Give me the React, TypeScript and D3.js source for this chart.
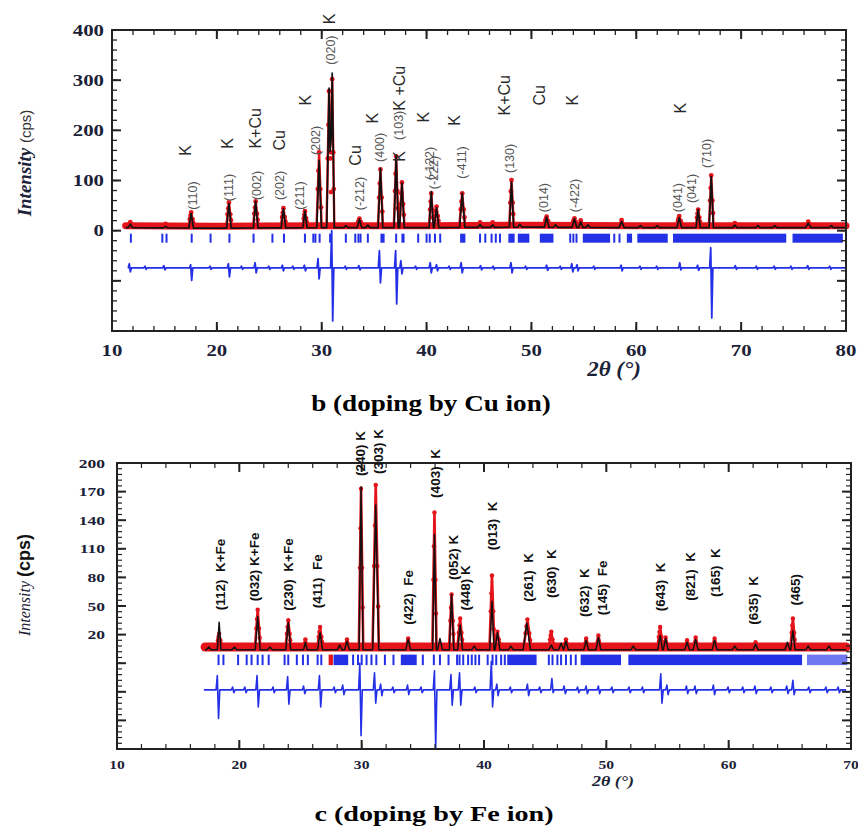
import React from "react";
import * as d3 from "d3";

type Pt = [number, number];
// [2θ, height above background, half base width]
type Peak = [number, number, number];
// [2θ, excursion above the zero line, excursion below it]
type Spike = [number, number, number];
type Label = [string, number, number];

// ---------------- panel b : doping by Cu ion ----------------
const xTicksB = [10, 20, 30, 40, 50, 60, 70, 80];
const yTicksB = [0, 100, 200, 300, 400];
const calcBackgroundB: Pt[] = [[11.3, 6], [20, 5], [30, 6], [40, 6], [50, 7], [60, 6], [70, 6], [80, 6]];
const obsBackgroundB: Pt[] = [[11.3, 10], [20, 9], [30, 10], [40, 10], [50, 11], [60, 10], [70, 10], [80, 10]];
const calcPeaksB: Peak[] = [
  [11.75, 7, 0.2], [15.1, 3, 0.2], [17.55, 29, 0.22], [21.15, 49, 0.22], [23.7, 53, 0.22],
  [26.35, 38, 0.22], [28.4, 33, 0.2], [29.75, 134, 0.22], [30.7, 278, 0.22], [31.0, 308, 0.2],
  [32.3, 4, 0.2], [33.6, 17, 0.22], [34.4, 5, 0.2], [35.6, 118, 0.22], [37.1, 144, 0.2],
  [37.65, 89, 0.22], [40.45, 72, 0.2], [40.95, 40, 0.22], [43.4, 68, 0.25], [45.1, 6, 0.2],
  [46.3, 5, 0.2], [48.1, 90, 0.2], [48.9, 6, 0.2], [51.45, 20, 0.22], [52.3, 5, 0.2],
  [54.1, 17, 0.22], [54.7, 11, 0.2], [55.4, 5, 0.2], [58.6, 12, 0.25], [60.4, 4, 0.2],
  [62.0, 4, 0.2], [64.1, 20, 0.22], [65.9, 36, 0.2], [67.15, 102, 0.2], [69.4, 5, 0.2],
  [71.6, 4, 0.2], [73.2, 4, 0.2], [76.4, 9, 0.25], [78.6, 4, 0.2],
];
const obsPeaksB: Peak[] = [
  [11.75, 7, 0.25], [15.1, 4, 0.25], [17.55, 27, 0.25], [21.15, 47, 0.25], [23.7, 49, 0.25],
  [26.35, 35, 0.25], [28.4, 29, 0.22], [29.75, 146, 0.24], [30.7, 268, 0.24], [31.0, 292, 0.2],
  [33.6, 14, 0.25], [35.6, 112, 0.24], [37.1, 138, 0.22], [37.65, 86, 0.24], [40.45, 64, 0.22],
  [40.95, 38, 0.24], [43.4, 64, 0.28], [45.1, 6, 0.25], [46.3, 6, 0.25], [48.1, 90, 0.22],
  [51.45, 17, 0.25], [54.1, 14, 0.25], [54.7, 10, 0.25], [58.6, 11, 0.28], [64.1, 19, 0.25],
  [65.9, 32, 0.22], [67.15, 100, 0.22], [69.4, 5, 0.25], [76.4, 8, 0.28],
];
const diffZeroB = -74;
const diffSpikesB: Spike[] = [
  [11.7, 8, 8], [13.2, 3, 3], [15.0, 4, 4], [17.55, 6, 25], [19.4, 3, 3], [21.15, 8, 18],
  [22.4, 3, 3], [23.7, 10, 10], [25.0, 3, 3], [26.3, 5, 6], [27.3, 3, 3], [28.4, 5, 6],
  [29.7, 18, 22], [31.0, 74, 106], [32.3, 3, 3], [33.6, 4, 4], [35.55, 34, 30], [37.1, 34, 72],
  [37.6, 14, 12], [39.0, 3, 3], [40.4, 10, 10], [41.0, 6, 6], [42.2, 3, 3], [43.35, 10, 10],
  [45.2, 4, 4], [46.4, 3, 3], [48.1, 10, 10], [49.5, 3, 3], [51.5, 5, 5], [52.8, 3, 3],
  [53.9, 8, 8], [54.4, 6, 6], [56.0, 3, 3], [58.6, 5, 6], [60.4, 3, 3], [62.0, 3, 3],
  [64.2, 10, 4], [65.9, 5, 5], [67.15, 40, 100], [69.5, 4, 3], [71.5, 3, 3], [73.2, 3, 3],
  [74.8, 3, 3], [76.4, 4, 3], [78.5, 3, 3],
];
const braggB = [
  11.8, 14.8, 15.2, 17.6, 19.4, 21.2, 23.5, 25.3, 26.4, 28.4, 29.2, 29.4, 29.8, 30.8, 32.3,
  33.2, 33.5, 33.7, 34.4, 37.1, 39.2, 40.0, 40.3, 40.8, 41.3, 45.1, 45.6, 46.2, 46.6, 47.0,
  53.7, 54.0, 54.3, 57.9, 58.4,
];
const braggBlocksB: Pt[] = [
  [35.6, 36.0], [37.6, 37.9], [43.2, 43.7], [47.8, 48.4], [48.7, 49.8], [50.8, 52.1],
  [54.9, 57.5], [59.1, 59.6], [60.1, 63.0], [63.5, 74.3], [74.9, 79.7],
];
const phaseLabelsB: Label[] = [
  ["K", 17.05, 160], ["K", 21.06, 174], ["K+Cu", 23.73, 204], ["Cu", 26.0, 180],
  ["K", 28.5, 260], ["K", 30.78, 422], ["Cu", 33.2, 150], ["K", 34.8, 224],
  ["K +Cu", 37.45, 284], ["K", 37.45, 148], ["K", 39.74, 226], ["K", 42.7, 220],
  ["K+Cu", 47.46, 270], ["Cu", 50.8, 270], ["K", 53.95, 260], ["K", 64.24, 244],
];
const hklLabelsB: Label[] = [
  ["(110)", 17.7, 70], ["(111)", 21.15, 86], ["(002)", 23.8, 90], ["(202)", 26.0, 90],
  ["(211)", 27.9, 70], ["(202)", 29.45, 180], ["(020)", 30.88, 360], ["(-212)", 33.64, 74],
  ["(400)", 35.55, 166], ["(103)", 37.36, 210], ["(-122)", 40.3, 134], ["(-222)", 40.7, 116],
  ["(-411)", 43.37, 136], ["(130)", 47.94, 144], ["(014)", 51.18, 66], ["(-422)", 54.14, 70],
  ["(041)", 63.97, 66], ["(041)", 65.29, 84], ["(710)", 66.72, 154],
];

// ---------------- panel c : doping by Fe ion ----------------
const xTicksC = [10, 20, 30, 40, 50, 60, 70];
const yTicksC = [20, 50, 80, 110, 140, 170, 200];
const calcBackgroundC: Pt[] = [[17.2, 4], [30, 4], [50, 4], [69.6, 4]];
const obsBackgroundC: Pt[] = [[17.2, 7], [30, 7], [50, 7], [69.6, 7]];
const calcPeaksC: Peak[] = [
  [17.5, 3, 0.2], [18.35, 29, 0.15], [19.6, 3, 0.2], [21.5, 35, 0.2], [22.5, 3, 0.2],
  [24.0, 29, 0.2], [25.4, 8, 0.15], [26.6, 18, 0.2], [28.2, 5, 0.2], [28.8, 9, 0.2],
  [29.95, 171, 0.16], [31.15, 152, 0.25], [33.8, 11, 0.2], [35.95, 121, 0.15], [36.4, 12, 0.2],
  [37.35, 58, 0.18], [38.05, 26, 0.2], [39.2, 4, 0.2], [40.65, 51, 0.18], [41.1, 18, 0.2],
  [42.2, 4, 0.2], [43.5, 28, 0.3], [45.5, 5, 0.2], [46.3, 7, 0.2], [46.7, 9, 0.2],
  [48.35, 10, 0.2], [49.35, 13, 0.2], [52.2, 4, 0.2], [54.4, 15, 0.2], [54.85, 12, 0.2],
  [56.6, 8, 0.2], [57.3, 11, 0.2], [58.85, 10, 0.2], [60.5, 4, 0.2], [62.2, 6, 0.2],
  [64.8, 8, 0.2], [65.25, 20, 0.18], [66.5, 4, 0.2], [68.2, 4, 0.2],
];
const obsPeaksC: Peak[] = [
  [18.35, 14, 0.2], [21.5, 39, 0.22], [24.0, 28, 0.22], [25.4, 8, 0.2], [26.6, 21, 0.22],
  [28.8, 8, 0.22], [29.95, 166, 0.18], [31.15, 170, 0.26], [33.8, 9, 0.22], [35.95, 141, 0.17],
  [37.35, 55, 0.2], [38.05, 30, 0.22], [40.65, 75, 0.2], [41.1, 16, 0.22], [43.55, 29, 0.3],
  [45.5, 16, 0.2], [46.7, 8, 0.22], [48.35, 9, 0.22], [49.35, 12, 0.22], [54.4, 21, 0.22],
  [54.85, 10, 0.2], [56.6, 7, 0.22], [57.3, 10, 0.22], [58.85, 9, 0.22], [62.2, 5, 0.22],
  [65.25, 30, 0.2],
];
const diffZeroC = -38;
const diffSpikesC: Spike[] = [
  [18.25, 15, 30], [19.5, 3, 3], [20.5, 3, 3], [21.5, 15, 18], [22.8, 3, 3], [24.0, 14, 15],
  [25.3, 4, 4], [26.6, 15, 18], [27.8, 3, 3], [28.5, 5, 5], [29.9, 28, 48], [31.1, 18, 14],
  [31.6, 6, 6], [32.6, 3, 3], [33.8, 5, 5], [34.9, 3, 3], [36.0, 20, 62], [37.35, 16, 16],
  [38.05, 18, 16], [39.3, 3, 3], [40.65, 30, 18], [41.1, 6, 6], [42.2, 3, 3], [43.6, 6, 6],
  [44.6, 3, 3], [45.6, 12, 3], [46.6, 4, 4], [47.7, 3, 3], [48.4, 4, 4], [49.4, 4, 4],
  [50.5, 3, 3], [51.9, 3, 3], [53.0, 3, 3], [54.5, 17, 14], [55.0, 5, 5], [56.6, 4, 4],
  [57.3, 4, 4], [58.8, 5, 5], [60.0, 3, 3], [61.2, 3, 3], [62.2, 4, 4], [63.5, 3, 3],
  [64.8, 4, 4], [65.3, 10, 5], [66.6, 3, 3], [68.0, 3, 3], [69.0, 3, 3],
];
const braggC = [
  18.3, 18.7, 19.9, 20.6, 21.0, 21.5, 21.9, 22.4, 23.7, 24.0, 24.7, 25.2, 25.6, 26.4, 26.7,
  29.3, 29.7, 30.0, 30.4, 30.8, 31.2, 31.9, 32.6, 35.0, 35.9, 36.4, 37.1, 37.8, 38.0, 38.3,
  38.7, 39.0, 39.3, 39.6, 40.3, 40.7, 41.0, 41.4, 41.7, 45.3, 45.6, 46.0, 46.3, 46.7, 47.1, 47.5,
];
const braggBlocksC: Pt[] = [[27.7, 28.9], [33.2, 34.5], [41.9, 44.3], [47.9, 51.2], [51.8, 66.0]];
const braggLightBlocksC: Pt[] = [[66.4, 69.7]];
const braggSecondPhaseC: Pt[] = [[27.3, 27.65]];
const labelsC: Label[] = [
  ["(112)  K+Fe", 18.5, 83], ["(032) K+Fe", 21.28, 91], ["(230)  K+Fe", 23.98, 83],
  ["(411)  Fe", 26.35, 76], ["(240) K", 29.87, 210], ["(303) K", 31.34, 212],
  ["(422)  Fe", 33.8, 59], ["(403)  K", 36.0, 189], ["(052) K", 37.47, 101],
  ["(448) K", 38.45, 69], ["(013)  K", 40.66, 134], ["(261)  K", 43.6, 80],
  ["(630)  K", 45.49, 84], ["(632)  K", 48.19, 64], ["(145)  Fe", 49.66, 69],
  ["(643)  K", 54.4, 70], ["(821)  K", 56.85, 81], ["(165)  K", 58.9, 85],
  ["(635)  K", 62.0, 56], ["(465)", 65.44, 67],
];

// ---------------- helpers ----------------
const SERIF = "'Liberation Serif','Times New Roman',serif";
const SANS = "'Liberation Sans',Arial,sans-serif";
const RED = "#e5141b";
const BLUE = "#2330e6";
const NAVY = "#1b2238";

function profile(bg: Pt[], peaks: Peak[]): Pt[] {
  const lo = bg[0][0];
  const hi = bg[bg.length - 1][0];
  const bgAt = d3.scaleLinear(bg.map((d) => d[0]), bg.map((d) => d[1]));
  const knots = new Set<number>(bg.map((d) => d[0]));
  peaks.forEach(([c, , w]) => {
    knots.add(+(c - w).toFixed(4));
    knots.add(c);
    knots.add(+(c + w).toFixed(4));
  });
  return [...knots]
    .filter((x) => x >= lo && x <= hi)
    .sort((a, b) => a - b)
    .map((x) => [x, bgAt(x) + d3.sum(peaks, ([c, h, w]) => Math.max(0, h * (1 - Math.abs(x - c) / w)))] as Pt);
}

function diffCurve(zero: number, spikes: Spike[], lo: number, hi: number): Pt[] {
  const pts: Pt[] = [[lo, zero]];
  spikes.forEach(([c, up, down]) => {
    pts.push([c - 0.15, zero], [c - 0.05, zero + up], [c + 0.05, zero - down], [c + 0.15, zero]);
  });
  pts.push([hi, zero]);
  return pts;
}

function peakDots(bg: Pt[], peaks: Peak[]): Pt[] {
  const bgAt = d3.scaleLinear(bg.map((d) => d[0]), bg.map((d) => d[1]));
  const out: Pt[] = [];
  peaks.forEach(([c, h, w]) => {
    const b = bgAt(c);
    out.push([c, b + h]);
    if (h > 12) {
      out.push([c - w * 0.5, b + h * 0.5], [c + w * 0.5, b + h * 0.5]);
      out.push([c - w * 0.25, b + h * 0.75], [c + w * 0.75, b + h * 0.25]);
    }
  });
  return out;
}

type Scale = d3.ScaleLinear<number, number>;

function FrameTicks(props: {
  x: Scale; y: Scale; xs: number[]; ys: number[]; len: number; w: number;
}) {
  const { x, y, xs, ys, len, w } = props;
  const [x0, x1] = x.range();
  const [y0, y1] = y.range();
  return (
    <g stroke="#222" strokeWidth={w}>
      {xs.map((v, i) => (
        <g key={"x" + i}>
          <line x1={x(v)} x2={x(v)} y1={y0} y2={y0 - len} />
          <line x1={x(v)} x2={x(v)} y1={y1} y2={y1 + len} />
        </g>
      ))}
      {ys.map((v, i) => (
        <g key={"y" + i}>
          <line x1={x0} x2={x0 + len} y1={y(v)} y2={y(v)} />
          <line x1={x1} x2={x1 - len} y1={y(v)} y2={y(v)} />
        </g>
      ))}
    </g>
  );
}

function Rotated(props: { x: number; y: number; size: number; color: string; weight?: string; text: string }) {
  return (
    <text
      transform={`translate(${props.x},${props.y}) rotate(-90)`}
      textAnchor="middle"
      dominantBaseline="central"
      fontFamily={SANS}
      fontSize={props.size}
      fontWeight={props.weight || "normal"}
      fill={props.color}
      style={{ whiteSpace: "pre" }}
    >
      {props.text}
    </text>
  );
}

function Stretched(props: {
  x: number; y: number; sx: number; size: number; anchor?: string; family?: string;
  weight?: string; italic?: boolean; fill?: string; children: React.ReactNode;
}) {
  return (
    <text
      transform={`translate(${props.x},${props.y}) scale(${props.sx},1)`}
      textAnchor={props.anchor || "middle"}
      fontFamily={props.family || SERIF}
      fontSize={props.size}
      fontWeight={props.weight || "bold"}
      fontStyle={props.italic ? "italic" : "normal"}
      fill={props.fill || NAVY}
    >
      {props.children}
    </text>
  );
}

export default function App() {
  // panel b scales
  const xB = d3.scaleLinear().domain([10, 80]).range([112, 846]);
  const yB = d3.scaleLinear().domain([-200, 400]).range([331, 30]);
  // panel c scales
  const xC = d3.scaleLinear().domain([10, 70]).range([117, 851]);
  const yC = d3.scaleLinear().domain([-100, 200]).range([749, 463]);

  const lineB = d3.line<Pt>().x((d) => xB(d[0])).y((d) => yB(d[1]));
  const lineC = d3.line<Pt>().x((d) => xC(d[0])).y((d) => yC(d[1]));

  const obsB = profile(obsBackgroundB, obsPeaksB);
  const calcB = profile(calcBackgroundB, calcPeaksB);
  const diffB = diffCurve(diffZeroB, diffSpikesB, 11.5, 80);
  const dotsB = peakDots(obsBackgroundB, obsPeaksB);

  const obsC = profile(obsBackgroundC, obsPeaksC);
  const calcC = profile(calcBackgroundC, calcPeaksC);
  const diffC = diffCurve(diffZeroC, diffSpikesC, 17.1, 69.6);
  const dotsC = peakDots(obsBackgroundC, obsPeaksC);

  return (
    <svg width={858} height={827} style={{ position: "absolute", left: 0, top: 0 }}>
      <rect width={858} height={827} fill="#fff" />

      {/* ===== panel b ===== */}
      <g>
        {/* Bragg positions */}
        <g fill={BLUE}>
          {braggB.map((v, i) => (
            <rect key={i} x={xB(v) - 1} y={yB(-6)} width={2} height={yB(-24) - yB(-6)} />
          ))}
          {braggBlocksB.map(([a, b], i) => (
            <rect key={"b" + i} x={xB(a)} y={yB(-6)} width={xB(b) - xB(a)} height={yB(-24) - yB(-6)} />
          ))}
        </g>
        {/* difference */}
        <path d={lineB(diffB) || ""} fill="none" stroke={BLUE} strokeWidth={1.8} strokeLinejoin="round" />
        {/* observed: dense background band, then the measured profile */}
        <path d={lineB(obsBackgroundB) || ""} fill="none" stroke={RED} strokeWidth={7} strokeLinecap="round" />
        <path d={lineB(obsB) || ""} fill="none" stroke={RED} strokeWidth={2.4} strokeLinejoin="round" />
        <g fill={RED}>
          {dotsB.map((d, i) => (
            <circle key={i} cx={xB(d[0])} cy={yB(d[1])} r={2.4} />
          ))}
        </g>
        {/* calculated */}
        <path d={lineB(calcB) || ""} fill="none" stroke="#111" strokeWidth={1.7} strokeLinejoin="round" />

        {/* frame & ticks */}
        <FrameTicks x={xB} y={yB} xs={d3.range(10, 80.01, 2)} ys={d3.range(-200, 400.01, 20)} len={5} w={1.3} />
        <FrameTicks x={xB} y={yB} xs={xTicksB} ys={d3.range(-200, 400.01, 100)} len={9} w={2} />
        <rect x={112} y={30} width={734} height={301} fill="none" stroke="#222" strokeWidth={2} />

        {xTicksB.map((v) => (
          <Stretched key={v} x={xB(v)} y={356} sx={1.3} size={16}>{v}</Stretched>
        ))}
        {yTicksB.map((v) => (
          <Stretched key={v} x={104} y={yB(v) + 5.5} sx={1.3} size={16} anchor="end">{v}</Stretched>
        ))}

        <text transform="translate(31,163) rotate(-90)" textAnchor="middle" fill={NAVY}>
          <tspan fontFamily={SERIF} fontStyle="italic" fontWeight="bold" fontSize={19}>Intensity </tspan>
          <tspan fontFamily={SANS} fontSize={15} fill="#333">(cps)</tspan>
        </text>
        <Stretched x={614} y={376} sx={1.15} size={20} italic>2θ (°)</Stretched>

        {phaseLabelsB.map(([t, a, v], i) => (
          <Rotated key={i} x={xB(a)} y={yB(v)} size={16} color="#2a2a2a" text={t} />
        ))}
        {hklLabelsB.map(([t, a, v], i) => (
          <Rotated key={i} x={xB(a)} y={yB(v)} size={12.5} color="#555" text={t} />
        ))}

        <Stretched x={431} y={411} sx={1.13} size={24} fill="#000">b (doping by Cu ion)</Stretched>
      </g>

      {/* ===== panel c ===== */}
      <g>
        <g fill={BLUE}>
          {braggC.map((v, i) => (
            <rect key={i} x={xC(v) - 1} y={yC(-1)} width={2} height={yC(-12) - yC(-1)} />
          ))}
          {braggBlocksC.map(([a, b], i) => (
            <rect key={"b" + i} x={xC(a)} y={yC(-1)} width={xC(b) - xC(a)} height={yC(-12) - yC(-1)} />
          ))}
          {braggLightBlocksC.map(([a, b], i) => (
            <rect key={"l" + i} x={xC(a)} y={yC(-1)} width={xC(b) - xC(a)} height={yC(-12) - yC(-1)} opacity={0.65} />
          ))}
        </g>
        {braggSecondPhaseC.map(([a, b], i) => (
          <rect key={"r" + i} x={xC(a)} y={yC(-1)} width={xC(b) - xC(a)} height={yC(-12) - yC(-1)} fill={RED} />
        ))}
        <path d={lineC(diffC) || ""} fill="none" stroke={BLUE} strokeWidth={1.6} strokeLinejoin="round" />
        <path d={lineC(obsBackgroundC) || ""} fill="none" stroke={RED} strokeWidth={9} strokeLinecap="round" />
        <path d={lineC(obsC) || ""} fill="none" stroke={RED} strokeWidth={2.6} strokeLinejoin="round" />
        <g fill={RED}>
          {dotsC.map((d, i) => (
            <circle key={i} cx={xC(d[0])} cy={yC(d[1])} r={2.2} />
          ))}
        </g>
        <path d={lineC(calcC) || ""} fill="none" stroke="#111" strokeWidth={1.5} strokeLinejoin="round" />

        <FrameTicks x={xC} y={yC} xs={d3.range(10, 70.01, 2)} ys={d3.range(-100, 200.01, 6)} len={5} w={1.2} />
        <FrameTicks x={xC} y={yC} xs={xTicksC} ys={d3.range(-100, 200.01, 30)} len={9} w={2} />
        <rect x={117} y={463} width={734} height={286} fill="none" stroke="#222" strokeWidth={2} />

        {xTicksC.map((v) => (
          <Stretched key={v} x={xC(v)} y={769} sx={1.2} size={13}>{v}</Stretched>
        ))}
        {yTicksC.map((v) => (
          <Stretched key={v} x={105} y={yC(v) + 4.5} sx={1.35} size={13} anchor="end">{v}</Stretched>
        ))}

        <text transform="translate(30,585) rotate(-90)" textAnchor="middle" fill={NAVY}>
          <tspan fontFamily={SERIF} fontStyle="italic" fontSize={16}>Intensity </tspan>
          <tspan fontFamily={SANS} fontWeight="bold" fontSize={18} fill="#111">(cps)</tspan>
        </text>
        <Stretched x={613} y={786} sx={1.2} size={15} italic>2θ (°)</Stretched>

        {labelsC.map(([t, a, v], i) => (
          <Rotated key={i} x={xC(a)} y={yC(v)} size={13.5} weight="bold" color="#111" text={t} />
        ))}

        <Stretched x={434} y={821} sx={1.28} size={22} fill="#000">c (doping by Fe ion)</Stretched>
      </g>
    </svg>
  );
}
